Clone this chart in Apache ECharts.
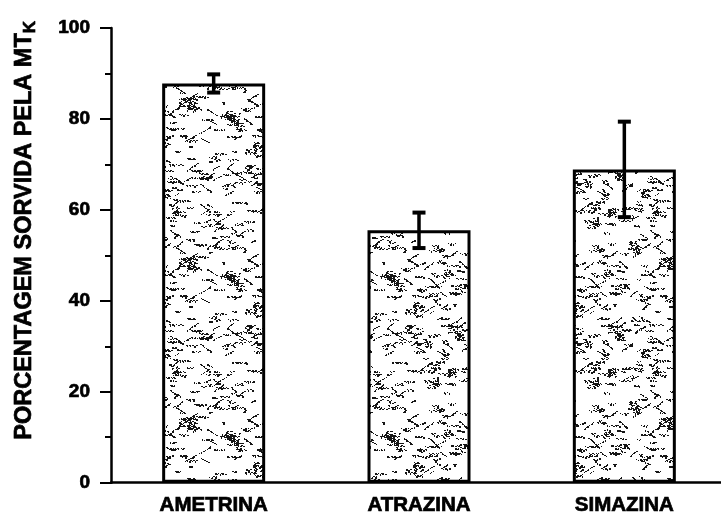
<!DOCTYPE html>
<html>
<head>
<meta charset="utf-8">
<script src="https://cdn.jsdelivr.net/npm/echarts@6/dist/echarts.min.js"></script>
<style>
  html, body { margin: 0; padding: 0; background: #fff; overflow: hidden; }
  /* the plot runs slightly past the right edge of the page */
  #chart { width: 727px; height: 516px; }
</style>
</head>
<body>
<div id="chart"></div>
<script>
// Herbicides and the mean percentage sorbed, with the spread of each mean
const categories = ['AMETRINA', 'ATRAZINA', 'SIMAZINA'];
const meanValues = [87.8, 55.5, 68.9];
const errorValues = [2.0, 3.9, 10.5];

const FONT = '"Liberation Sans", Arial, sans-serif';
// a thin outline thickens the bold face
const heavy = { textBorderColor: '#000', textBorderWidth: 0.7 };

// Stippled fill: dark flecks and small clumps scattered on white (seeded so it is stable)
function makeStipple(size) {
  const cv = document.createElement('canvas');
  cv.width = size; cv.height = size;
  const g = cv.getContext('2d');
  g.fillStyle = '#fff';
  g.fillRect(0, 0, size, size);
  g.fillStyle = '#151515';
  let s = 20230917;
  const rnd = () => { s = (s * 1103515245 + 12345) & 0x7fffffff; return s / 0x7fffffff; };
  const dot = (x, y, w, h) => g.fillRect(((x % size) + size) % size, ((y % size) + size) % size, w, h);
  // short wavy strokes
  for (let i = 0; i < 300; i++) {
    let x = Math.floor(rnd() * size);
    let y = Math.floor(rnd() * size);
    const steps = 3 + Math.floor(rnd() * 6);
    const diag = rnd() < 0.35 ? (rnd() < 0.5 ? -1 : 1) : 0;
    for (let j = 0; j < steps; j++) {
      dot(x, y, 1 + (rnd() < 0.6 ? 1 : 0), 1 + (rnd() < 0.3 ? 1 : 0));
      x += 1 + Math.floor(rnd() * 2);
      y += diag !== 0 ? diag : (j % 2 === 0 ? 1 : -1);
    }
  }
  // a few denser clumps
  for (let i = 0; i < 16; i++) {
    const cx = Math.floor(rnd() * size);
    const cy = Math.floor(rnd() * size);
    const n = 20 + Math.floor(rnd() * 30);
    for (let j = 0; j < n; j++) {
      dot(cx + Math.floor((rnd() - 0.5) * 9), cy + Math.floor((rnd() - 0.5) * 9), 1 + (rnd() < 0.5 ? 1 : 0), 1);
    }
  }
  return cv;
}
const stipple = makeStipple(160);

const chart = echarts.init(document.getElementById('chart'), null, { renderer: 'canvas' });

chart.setOption({
  animation: false,
  backgroundColor: '#fff',
  grid: { left: 111, top: 28, right: 0, height: 456.5, containLabel: false },
  xAxis: {
    type: 'category',
    data: categories,
    axisLine: { lineStyle: { color: '#000', width: 2.5 } },
    axisTick: { show: false },
    axisLabel: Object.assign({
      color: '#000', fontFamily: FONT, fontWeight: 'bold', fontSize: 20.5, margin: 12
    }, heavy),
    splitLine: { show: false }
  },
  yAxis: {
    type: 'value',
    min: 0, max: 100, interval: 20,
    name: 'PORCENTAGEM SORVIDA PELA MT{k|K}',
    nameLocation: 'middle',
    nameGap: 72,
    nameTextStyle: Object.assign({
      color: '#000', fontFamily: FONT, fontWeight: 'bold', fontSize: 23.5, lineHeight: 28,
      padding: [0, 0, 0, 50],
      rich: {
        k: Object.assign({ color: '#000', fontFamily: FONT, fontWeight: 'bold', fontSize: 17, lineHeight: 17, padding: [11, 0, 0, 0] }, heavy)
      }
    }, heavy),
    axisLine: { show: true, lineStyle: { color: '#000', width: 2.5 } },
    axisTick: { show: true, length: 11, lineStyle: { color: '#000', width: 2 } },
    minorTick: { show: true, splitNumber: 2, length: 6, lineStyle: { color: '#000', width: 2 } },
    axisLabel: Object.assign({
      color: '#000', fontFamily: FONT, fontWeight: 'bold', fontSize: 19, margin: 21
    }, heavy),
    splitLine: { show: false }
  },
  series: [
    {
      type: 'bar',
      data: meanValues,
      barWidth: 103,
      itemStyle: {
        color: { image: stipple, repeat: 'repeat' },
        borderColor: '#000',
        borderWidth: 3
      },
      z: 2
    },
    {
      type: 'custom',
      data: categories.map((c, i) => [i, meanValues[i] - errorValues[i], meanValues[i] + errorValues[i]]),
      renderItem: function (params, api) {
        const lo = api.coord([api.value(0), api.value(1)]);
        const hi = api.coord([api.value(0), api.value(2)]);
        const half = 6.5;
        return {
          type: 'group',
          children: [
            { type: 'line', shape: { x1: hi[0], y1: hi[1], x2: lo[0], y2: lo[1] }, style: { stroke: '#000', lineWidth: 3.5 } },
            { type: 'line', shape: { x1: hi[0] - half, y1: hi[1], x2: hi[0] + half, y2: hi[1] }, style: { stroke: '#000', lineWidth: 4 } },
            { type: 'line', shape: { x1: lo[0] - half, y1: lo[1], x2: lo[0] + half, y2: lo[1] }, style: { stroke: '#000', lineWidth: 4 } }
          ]
        };
      },
      z: 5
    }
  ]
});
</script>
</body>
</html>
